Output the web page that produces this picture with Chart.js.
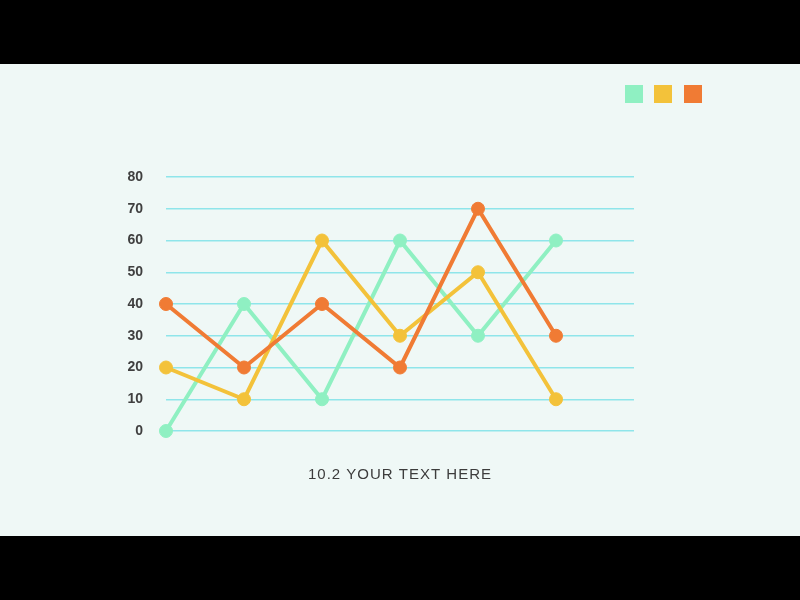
<!DOCTYPE html>
<html>
<head>
<meta charset="utf-8">
<script src="https://cdn.jsdelivr.net/npm/chart.js@4/dist/chart.umd.min.js"></script>
<style>
  html, body { margin: 0; padding: 0; background: #000; }
  #panel { position: absolute; left: 0; top: 64px; width: 800px; height: 472px; background: #eff8f6; }
  #c { display: block; }
</style>
</head>
<body>
<div id="panel"><canvas id="c" width="800" height="472"></canvas></div>
<script>
// ── Veri ─────────────────────────────────────────────
var categories = ['1', '2', '3', '4', '5', '6', '7'];
var greenValues  = [0, 40, 10, 60, 30, 60];
var yellowValues = [20, 10, 60, 30, 50, 10];
var orangeValues = [40, 20, 40, 20, 70, 30];
var yTicks = [0, 10, 20, 30, 40, 50, 60, 70, 80];
var titleText = '10.2 YOUR TEXT HERE';

var COLORS = { green: '#8ff0c2', yellow: '#f3c23a', orange: '#f07b34' };

function mkSet(data, color, order) {
  return {
    data: data,
    borderColor: color,
    backgroundColor: color,
    pointBackgroundColor: color,
    pointBorderColor: color,
    borderWidth: 4,
    pointRadius: 6.5,
    pointBorderWidth: 1,
    tension: 0,
    clip: false,
    order: order
  };
}

// ── Legend kutuları + alt başlık (sadece çizim) ───────
var decoPlugin = {
  id: 'deco',
  afterDraw: function (chart) {
    var ctx = chart.ctx;
    ctx.save();
    var xs = [625, 654, 684];
    chart.data.datasets.forEach(function (ds, i) {
      ctx.fillStyle = ds.borderColor;
      ctx.fillRect(xs[i], 21, 18, 18);
    });
    ctx.fillStyle = '#3c3c3c';
    ctx.font = '15px "Liberation Sans", Arial, sans-serif';
    ctx.textAlign = 'center';
    ctx.textBaseline = 'middle';
    try { ctx.letterSpacing = '1px'; } catch (e) {}
    ctx.fillText(titleText, 400, 411);
    ctx.restore();
  }
};

new Chart(document.getElementById('c'), {
  type: 'line',
  data: {
    labels: categories,
    datasets: [
      mkSet(greenValues, COLORS.green, 2),
      mkSet(yellowValues, COLORS.yellow, 1),
      mkSet(orangeValues, COLORS.orange, 0)
    ]
  },
  options: {
    responsive: false,
    animation: false,
    layout: { padding: { top: 113, right: 166, bottom: 105, left: 0 } },
    plugins: { legend: { display: false }, tooltip: { enabled: false } },
    scales: {
      x: { display: false, offset: false },
      y: {
        min: 0, max: 80,
        afterFit: function (s) { s.width = 166; },
        afterBuildTicks: function (s) { s.ticks = yTicks.map(function (v) { return { value: v }; }); },
        border: { display: false },
        grid: { color: '#8fe5ea', lineWidth: 1.5, drawTicks: false },
        ticks: {
          padding: 23,
          color: '#3f3f3f',
          font: { family: '"Liberation Sans", Arial, sans-serif', size: 14, weight: 'bold' }
        }
      }
    }
  },
  plugins: [decoPlugin]
});
</script>
</body>
</html>
